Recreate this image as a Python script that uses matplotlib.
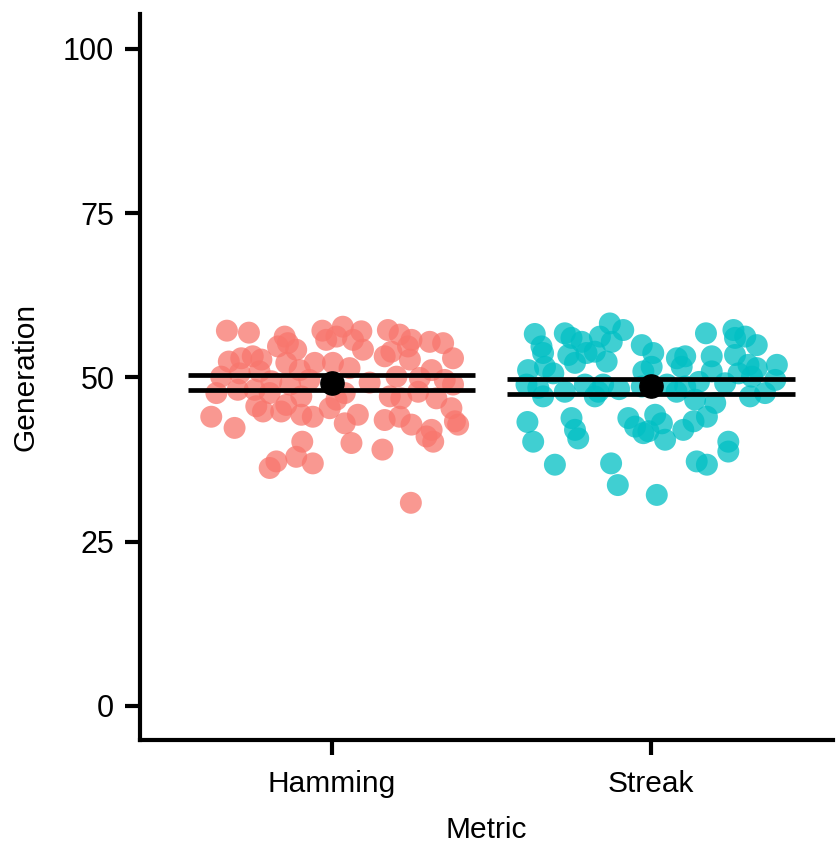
import numpy as np
import matplotlib
matplotlib.use("Agg")
import matplotlib.pyplot as plt

plt.rcParams['font.family'] = ['Liberation Sans', 'DejaVu Sans']

# categories and summary (mean with interval)
metrics = ['Hamming', 'Streak']
colors = ['#F8766D', '#00BFC4']
means = [49.2, 48.7]
lower = [48.1, 47.5]
upper = [50.3, 49.8]

# jittered points: horizontal offset from the category, and Generation
ham_dx = [-0.328, -0.259, -0.147, -0.029, -0.017, -0.322, -0.283, -0.247, -0.220, -0.168,
          -0.137, -0.111, -0.142, -0.053, -0.346, -0.288, -0.226, -0.189, -0.361, -0.294,
          -0.241, -0.194, -0.095, -0.236, -0.215, -0.158, -0.142, -0.095, -0.059, -0.006,
          -0.377, -0.304, -0.092, -0.111, -0.173, -0.194, -0.059, 0.004, 0.035, 0.093,
          0.067, 0.015, 0.098, 0.176, 0.213, 0.250, 0.307, 0.349, 0.380, 0.166,
          0.187, 0.245, 0.239, 0.313, 0.203, 0.056, 0.041, 0.015, 0.182, 0.218,
          0.271, 0.328, 0.380, 0.375, 0.396, 0.386, 0.082, 0.041, 0.166, 0.213,
          0.250, 0.313, 0.297, 0.318, 0.062, 0.159, 0.248, -0.070, 0.119, 0.276,
          0.354, -0.100, -0.130]
ham_y = [57.1, 56.8, 56.2, 57.1, 55.7, 52.4, 52.9, 53.2, 52.7, 54.7,
         55.2, 54.2, 52.2, 52.2, 50.1, 50.6, 50.9, 49.4, 47.6, 48.1,
         48.1, 47.6, 47.1, 45.6, 44.8, 44.8, 45.8, 44.3, 44.0, 45.3,
         44.0, 42.3, 40.2, 37.9, 37.2, 36.2, 36.9, 52.2, 57.7, 57.0,
         55.7, 56.2, 54.2, 57.2, 56.5, 55.7, 55.4, 55.2, 52.9, 53.2,
         53.9, 52.7, 54.7, 51.1, 50.1, 51.4, 47.6, 46.6, 47.1, 46.8,
         47.8, 46.8, 48.9, 45.3, 42.8, 43.3, 44.3, 43.0, 43.5, 44.0,
         42.8, 42.0, 41.0, 40.2, 40.0, 39.0, 30.9, 49.6, 49.2, 49.9,
         49.6, 51.1, 48.9]

str_dx = [-0.364, -0.343, -0.338, -0.270, -0.249, -0.217, -0.160, -0.129, -0.087, -0.123,
          -0.029, -0.259, -0.238, -0.202, -0.176, -0.139, -0.385, -0.332, -0.306, -0.390,
          -0.353, -0.338, -0.270, -0.207, -0.176, -0.165, -0.024, -0.029, -0.387, -0.369,
          -0.249, -0.238, -0.228, -0.071, -0.050, -0.024, -0.301, -0.125, -0.104, 0.007,
          0.002, 0.081, 0.107, 0.096, 0.172, 0.190, 0.258, 0.263, 0.295, 0.331,
          0.263, 0.305, 0.331, 0.394, 0.190, 0.232, 0.274, 0.316, 0.389, 0.357,
          0.310, 0.107, 0.138, 0.201, 0.175, 0.133, 0.101, 0.013, 0.034, -0.008,
          0.044, 0.242, 0.242, 0.143, 0.175, 0.018, -0.150, -0.100, 0.050, 0.150,
          0.080]
str_y = [56.6, 54.7, 53.7, 56.7, 56.0, 55.4, 56.2, 58.2, 57.2, 55.4,
         54.9, 53.4, 52.2, 53.7, 53.9, 52.4, 51.1, 51.6, 50.6, 48.9,
         48.4, 47.1, 47.8, 48.9, 47.1, 47.8, 50.9, 48.6, 43.2, 40.2,
         43.8, 42.0, 40.7, 43.8, 42.5, 41.5, 36.7, 36.9, 33.6, 53.7,
         51.6, 52.9, 53.2, 51.6, 56.7, 53.2, 57.2, 56.0, 56.2, 54.9,
         53.4, 51.9, 51.4, 51.9, 50.9, 49.1, 50.6, 50.1, 49.6, 47.6,
         47.1, 48.6, 46.6, 46.1, 44.0, 43.3, 42.0, 44.3, 43.0, 41.8,
         40.5, 40.2, 38.7, 37.2, 36.7, 32.1, 48.9, 48.2, 48.9, 49.3,
         47.8]

fig = plt.figure(figsize=(8.36, 8.43), dpi=100)
ax = fig.add_axes([0.1675, 0.1222, 0.829, 0.8612])

offsets = [ham_dx, str_dx]
values = [ham_y, str_y]
for i in range(len(metrics)):
    xs = (i + 1) + np.array(offsets[i])
    ax.scatter(xs, values[i], s=250, color=colors[i], alpha=0.75,
               edgecolors='none', zorder=2)

# summary: mean point and interval lines
for i in range(len(metrics)):
    xc = i + 1
    ax.hlines([lower[i], upper[i]], xc - 0.45, xc + 0.45, color='black',
              lw=3.4, zorder=3)
    ax.vlines(xc, lower[i], upper[i], color='black', lw=3.4, zorder=3)
    ax.scatter([xc], [means[i]], s=280, color='black', zorder=4)

ax.set_xlim(0.4, 2.57)
ax.set_ylim(-5.2, 105.3)
ax.set_xticks([1, 2])
ax.set_xticklabels(metrics, fontsize=21.5)
ax.set_yticks([0, 25, 50, 75, 100])

for side in ['top', 'right']:
    ax.spines[side].set_visible(False)
for side in ['left', 'bottom']:
    ax.spines[side].set_linewidth(3)
ax.tick_params(axis='both', length=10.5, width=3, colors='black')
ax.tick_params(axis='y', pad=8, labelsize=22)
ax.tick_params(axis='x', pad=11)

ax.set_xlabel('Metric', fontsize=21.5, labelpad=13)
ax.set_ylabel('Generation', fontsize=21.5, labelpad=17)

fig.savefig('out.png', dpi=100)
